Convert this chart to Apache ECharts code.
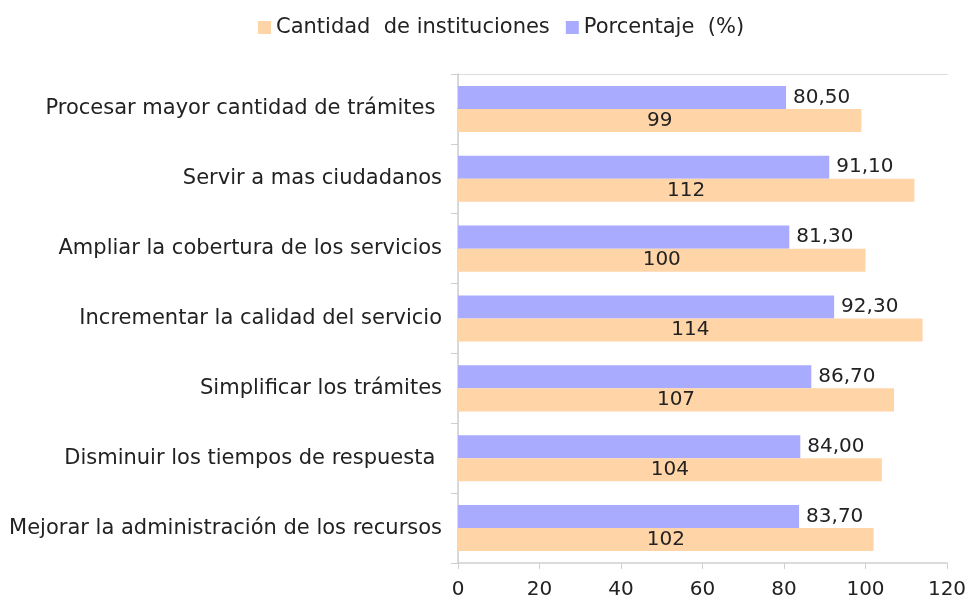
<!DOCTYPE html>
<html>
<head>
<meta charset="utf-8">
<script src="https://cdn.jsdelivr.net/npm/echarts@6/dist/echarts.min.js"></script>
<style>
  html, body { margin: 0; padding: 0; background: #fff; }
  #chart { width: 975px; height: 600px; }
</style>
</head>
<body>
<div id="chart"></div>
<script>
// datos
var categorias = [
  'Procesar mayor cantidad de trámites ',
  'Servir a mas ciudadanos',
  'Ampliar la cobertura de los servicios',
  'Incrementar la calidad del servicio',
  'Simplificar los trámites',
  'Disminuir los tiempos de respuesta ',
  'Mejorar la administración de los recursos'
];
var porcentaje = [80.5, 91.1, 81.3, 92.3, 86.7, 84.0, 83.7];
var cantidad = [99, 112, 100, 114, 107, 104, 102];
var xTicks = [0, 20, 40, 60, 80, 100, 120];

var fuente = 'DejaVu Sans';
var chart = echarts.init(document.getElementById('chart'));

chart.setOption({
  animation: false,
  textStyle: { fontFamily: fuente },
  legend: {
    data: ['Cantidad  de instituciones', 'Porcentaje  (%)'],
    top: 12,
    left: 253,
    icon: 'rect',
    itemWidth: 13,
    itemHeight: 13,
    itemGap: 16,
    textStyle: { fontSize: 21, color: '#222', fontFamily: fuente }
  },
  grid: { left: 458, right: 28, top: 74, bottom: 35 },
  xAxis: [
    {
      type: 'value',
      min: xTicks[0],
      max: xTicks[xTicks.length - 1],
      interval: 20,
      axisLine: { show: true, lineStyle: { color: '#cfcfcf', width: 1.5 } },
      axisTick: { show: true, length: 6, lineStyle: { color: '#cfcfcf' } },
      axisLabel: { fontSize: 20, color: '#222', margin: 17, fontFamily: fuente },
      splitLine: { show: false }
    },
    {
      type: 'value',
      position: 'top',
      min: 0,
      max: 120,
      axisLine: { show: true, lineStyle: { color: '#d4d4d4', type: 'dotted' } },
      axisTick: { show: false },
      axisLabel: { show: false },
      splitLine: { show: false }
    }
  ],
  yAxis: [
    {
      type: 'category',
      data: categorias,
      inverse: true,
      axisLine: { show: true, lineStyle: { color: '#cfcfcf', width: 1.5 } },
      axisTick: { show: true, length: 7, lineStyle: { color: '#cfcfcf' } },
      axisLabel: { fontSize: 21, color: '#222', margin: 16, fontFamily: fuente }
    },
    {
      type: 'category',
      data: categorias,
      inverse: true,
      position: 'right',
      axisLine: { show: true, lineStyle: { color: '#d4d4d4', type: 'dotted' } },
      axisTick: { show: false },
      axisLabel: { show: false }
    }
  ],
  series: [
    {
      name: 'Porcentaje  (%)',
      type: 'bar',
      data: porcentaje,
      barGap: '0%',
      barCategoryGap: '34%',
      itemStyle: { color: '#a9abfe' },
      label: {
        show: true,
        position: 'right',
        distance: 7,
        fontSize: 20,
        color: '#222',
        fontFamily: fuente,
        formatter: function (p) { return p.value.toFixed(2).replace('.', ','); }
      }
    },
    {
      name: 'Cantidad  de instituciones',
      type: 'bar',
      data: cantidad,
      barGap: '0%',
      barCategoryGap: '34%',
      itemStyle: { color: '#ffd4a7' },
      label: {
        show: true,
        position: 'inside',
        fontSize: 20,
        color: '#222',
        fontFamily: fuente
      }
    }
  ]
});
</script>
</body>
</html>
